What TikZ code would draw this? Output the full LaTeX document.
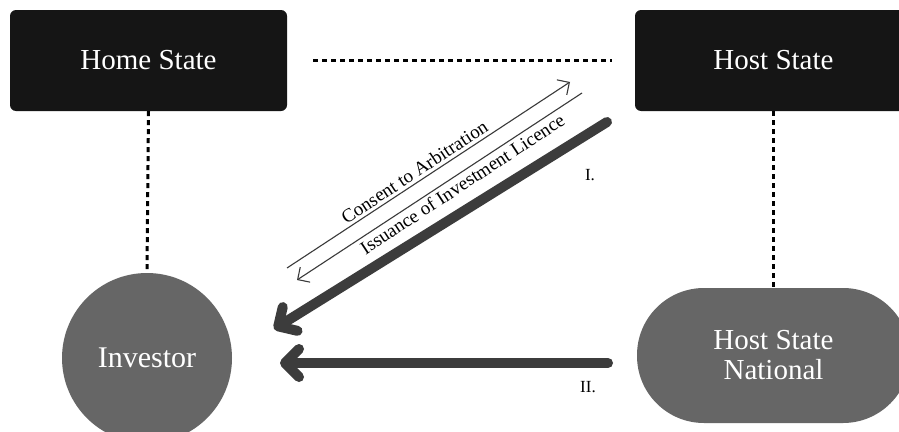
\documentclass[tikz,border=0pt]{standalone}
\usepackage{fontspec}
\setmainfont{Liberation Serif}
\usetikzlibrary{arrows.meta}
\definecolor{boxblack}{HTML}{151515}
\definecolor{nodegray}{HTML}{666666}
\definecolor{arrowgray}{HTML}{3C3C3C}
\definecolor{thingray}{HTML}{3A3A3A}
\begin{document}
\begin{tikzpicture}[x=1pt,y=-1pt,
  statebox/.style={fill=boxblack, text=white, rounded corners=6pt, minimum width=277pt, minimum height=101pt, inner sep=0pt, font=\fontsize{29}{32}\selectfont},
  grayshape/.style={fill=nodegray, text=white, inner sep=0pt, align=center, font=\fontsize{29}{30}\selectfont},
  dotline/.style={draw=black, line width=3pt, dash pattern=on 5pt off 4pt},
  bigarrow/.style={draw=arrowgray, line width=10pt, line cap=round, -{Straight Barb[length=14pt,width=28pt,round]}},
  thinarrow/.style={draw=thingray, line width=1.1pt, -{Straight Barb[length=9pt,width=18pt]}},
  arrowlabel/.style={font=\fontsize{19}{21}\selectfont, text=black, inner sep=3pt},
  numlabel/.style={font=\fontsize{17}{19}\selectfont, text=black, inner sep=0pt}
]
\useasboundingbox (0,0) rectangle (899,431);
\fill[white] (0,0) rectangle (899,431);

\node[statebox] (home) at (148.5,60.5) {Home State};
\node[statebox] (host) at (773.5,60.5) {Host State};
\node[grayshape, circle, minimum size=170pt, font=\fontsize{30}{30}\selectfont] (inv) at (147,358) {Investor};
\node[grayshape, rounded corners=67pt, minimum width=273pt, minimum height=135pt] (hsn) at (773.5,355.5) {Host State\\National};

\draw[dotline] (home.south) -- (inv.north);
\draw[dotline] (host.south) -- (hsn.north);
\draw[dotline, shorten <=26pt, shorten >=23pt] (home.east) -- (host.west);

\coordinate (c1) at (287,268);
\coordinate (c2) at (570,82);
\coordinate (i1) at (297,280);
\coordinate (i2) at (582,93);
\coordinate (t1) at (607,122);
\coordinate (t2) at (274,329);
\coordinate (u1) at (608,363);
\coordinate (u2) at (280,363);

\draw[thinarrow] (c1) -- node[arrowlabel, pos=0.47, above, sloped] (lc) {Consent to Arbitration} (c2);
\draw[thinarrow, {Straight Barb[length=9pt,width=18pt]}-] (i1) -- node[arrowlabel, pos=0.56, below, sloped] (li) {Issuance of Investment Licence} (i2);

\draw[bigarrow] (t1) -- (t2);
\draw[bigarrow] (u1) -- (u2);

\node[numlabel] (n1) at (590,175) {I.};
\node[numlabel] (n2) at (588,387) {II.};
\end{tikzpicture}
\end{document}
